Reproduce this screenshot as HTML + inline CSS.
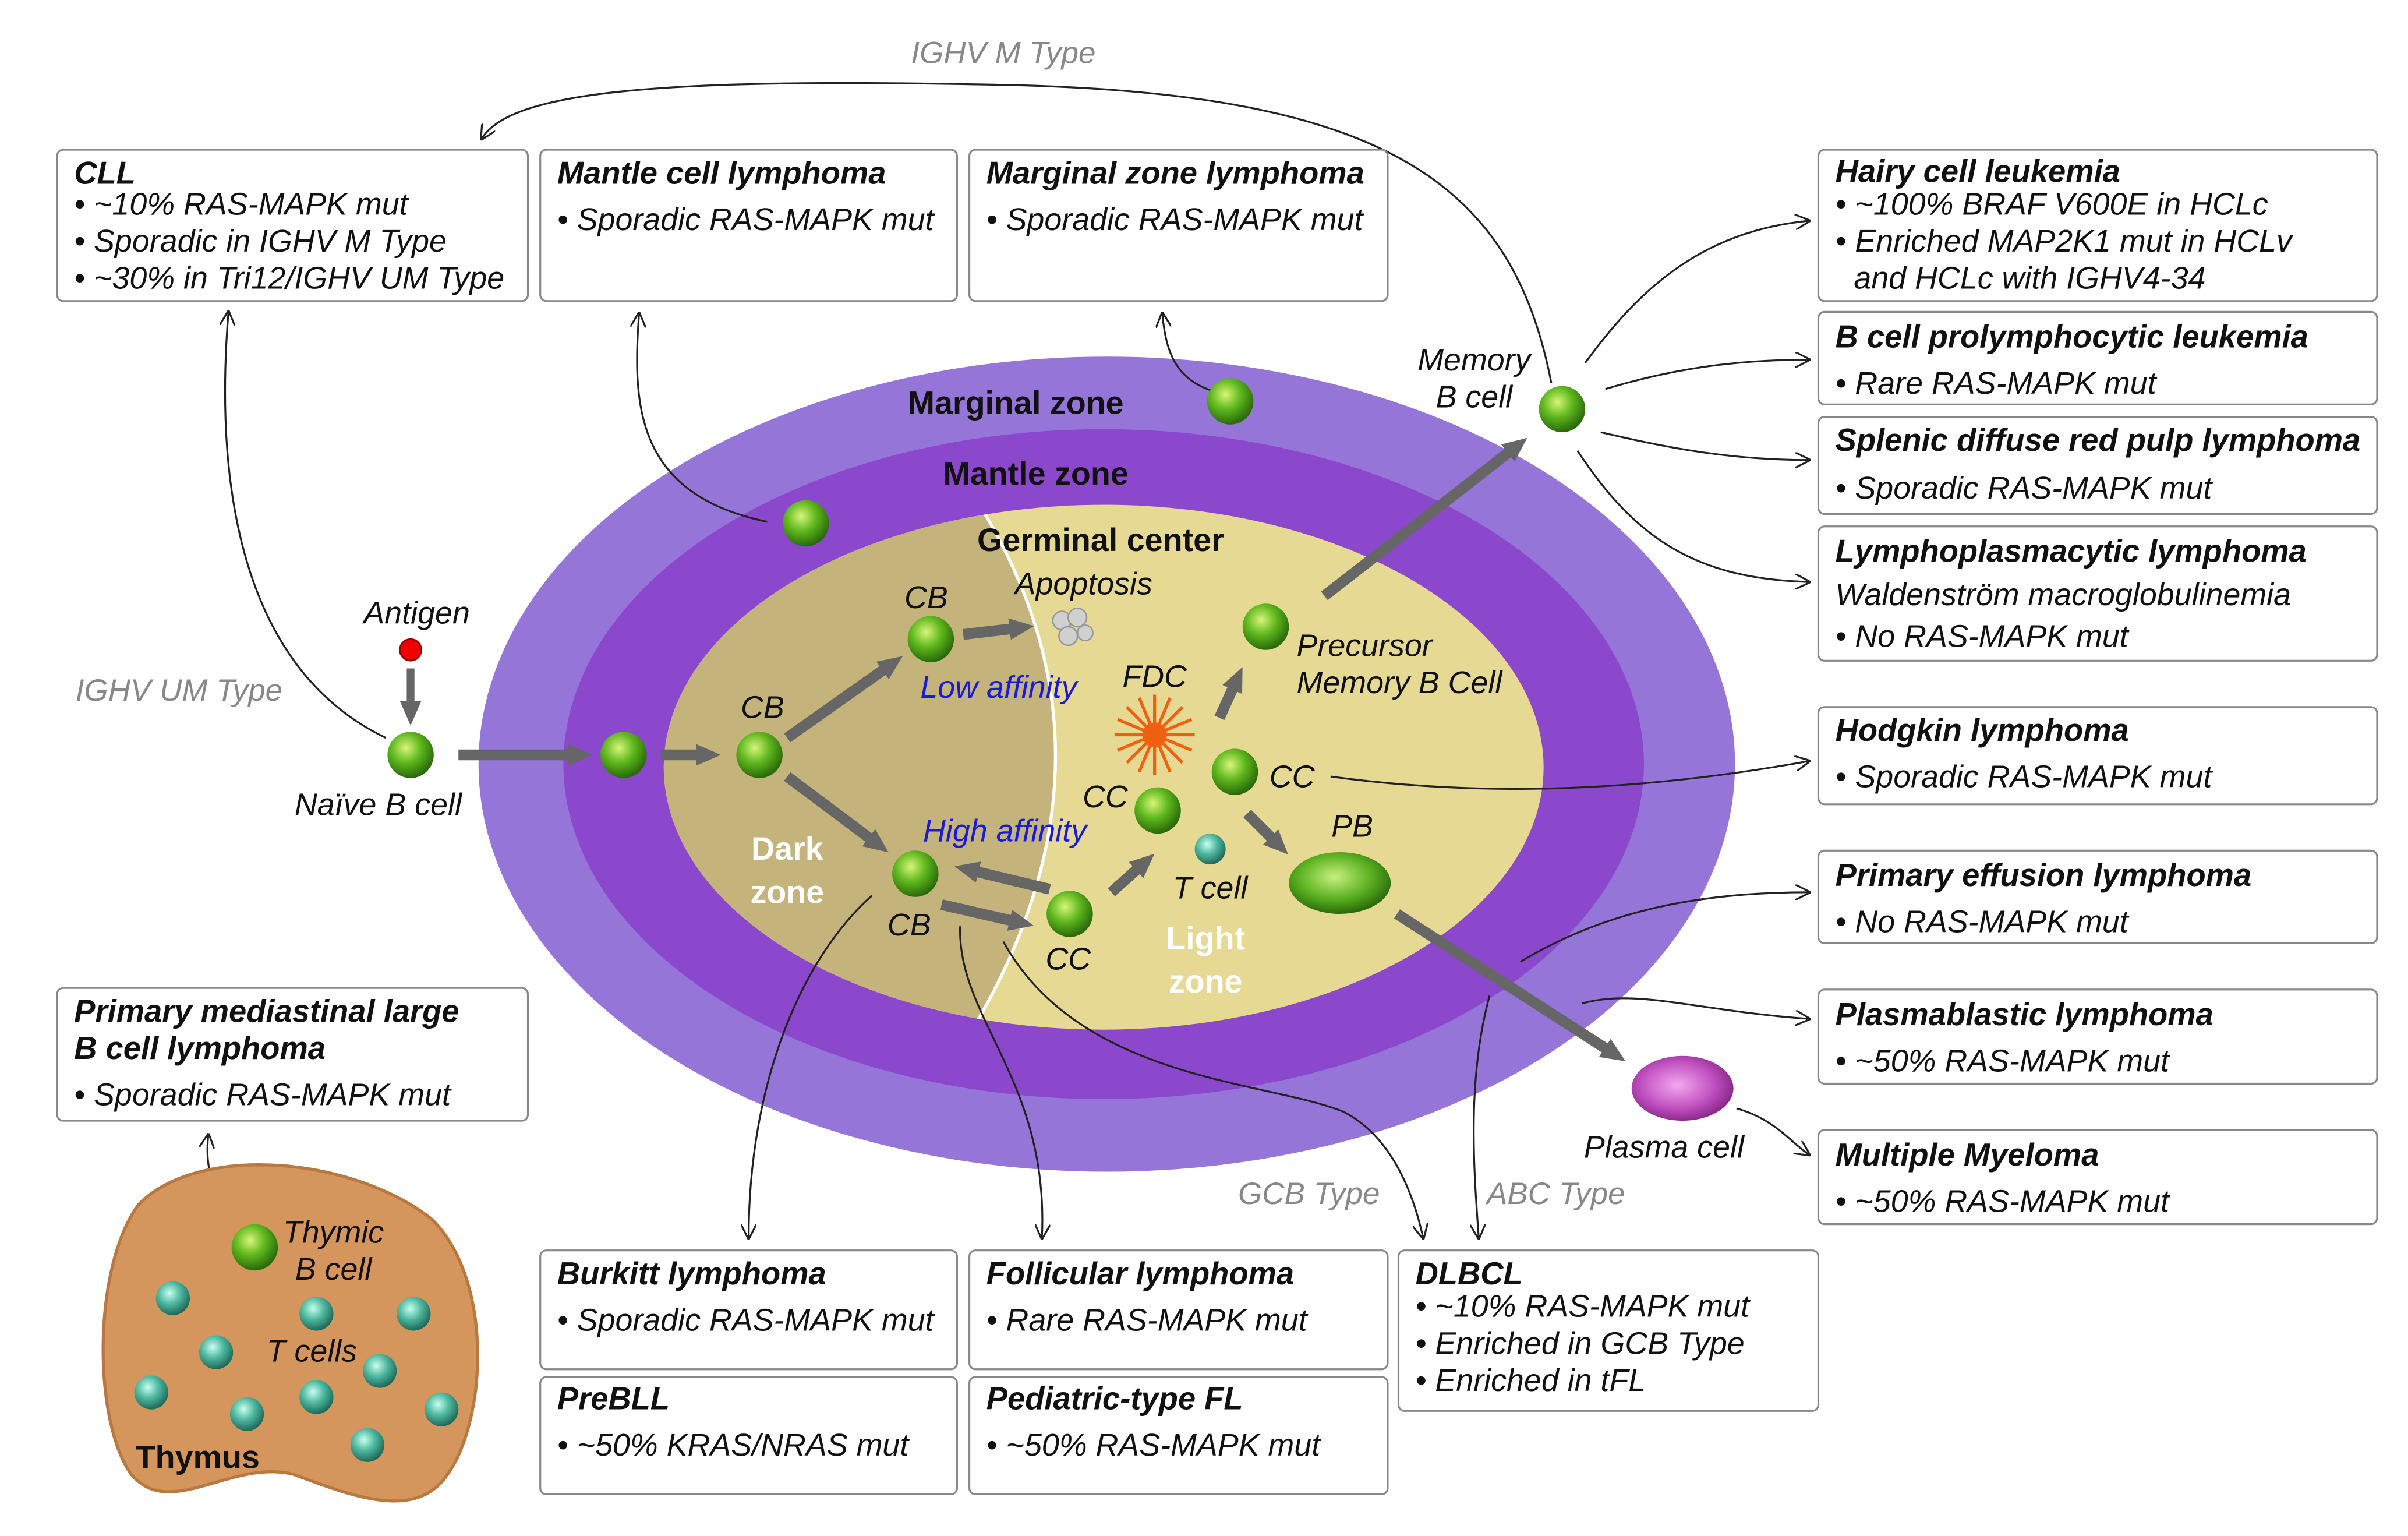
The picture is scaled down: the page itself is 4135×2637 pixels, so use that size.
<!DOCTYPE html>
<html><head><meta charset="utf-8"><style>
html,body{margin:0;padding:0;background:#fff;}
svg{display:block;}
text{font-family:"Liberation Sans",sans-serif;font-style:italic;}
.t{font-weight:bold;font-size:20.5px;fill:#111;}
.b{font-size:20.3px;fill:#111;}
.g{font-size:20px;fill:#888;}
.box{fill:#fff;stroke:#888;stroke-width:1.2;}
.thin{fill:none;stroke:#222;stroke-width:1.2;}
.big{stroke:#666;stroke-width:7;fill:none;}
</style></head><body>
<svg width="4135" height="2637" viewBox="0 0 1560 995" preserveAspectRatio="none" xmlns="http://www.w3.org/2000/svg">
<defs>
<radialGradient id="gc" cx="40%" cy="35%" r="65%"><stop offset="0" stop-color="#d8f57a"/><stop offset="0.5" stop-color="#5fb81e"/><stop offset="1" stop-color="#2a6a0a"/></radialGradient>
<radialGradient id="tc" cx="40%" cy="35%" r="65%"><stop offset="0" stop-color="#c8fff0"/><stop offset="0.5" stop-color="#4fb8a0"/><stop offset="1" stop-color="#1f6a5a"/></radialGradient>
<radialGradient id="pc" cx="45%" cy="45%" r="60%"><stop offset="0" stop-color="#f4a8f0"/><stop offset="0.6" stop-color="#c050c0"/><stop offset="1" stop-color="#802080"/></radialGradient>
<radialGradient id="pb" cx="45%" cy="40%" r="60%"><stop offset="0" stop-color="#c8f080"/><stop offset="0.6" stop-color="#5ab020"/><stop offset="1" stop-color="#2a6a0a"/></radialGradient>
<marker id="a" markerWidth="10" markerHeight="10" refX="9" refY="5" orient="auto" markerUnits="userSpaceOnUse"><path d="M0,0 L10,5 L0,10" fill="none" stroke="#222" stroke-width="1.2"/></marker>
<marker id="A" markerWidth="16" markerHeight="14" refX="4" refY="7" orient="auto" markerUnits="userSpaceOnUse"><path d="M0,0 L16,7 L0,14 Z" fill="#666"/></marker>
<clipPath id="gcclip"><ellipse cx="715" cy="497" rx="285" ry="170"/></clipPath>
</defs>

<ellipse cx="717" cy="495" rx="407" ry="264" fill="#9575d8"/>
<ellipse cx="715" cy="495" rx="350" ry="217" fill="#8c48cc"/>
<ellipse cx="715" cy="497" rx="285" ry="170" fill="#e6d993"/>
<g clip-path="url(#gcclip)">
<path d="M420,320 L630,320 Q740,490 625,675 L420,675 Z" fill="#c4b37a"/>
<path d="M630,320 Q740,490 625,675" fill="none" stroke="#fff" stroke-width="2"/>
</g>
<text x="658" y="268" style="font-style:normal;font-weight:bold;font-size:21px" text-anchor="middle" fill="#111">Marginal zone</text>
<text x="671" y="314" style="font-style:normal;font-weight:bold;font-size:21px" text-anchor="middle" fill="#111">Mantle zone</text>
<text x="713" y="357" style="font-style:normal;font-weight:bold;font-size:21px" text-anchor="middle" fill="#111">Germinal center</text>
<text x="510" y="557" style="font-style:normal;font-weight:bold;font-size:21px" text-anchor="middle" fill="#fff">Dark</text>
<text x="510" y="585" style="font-style:normal;font-weight:bold;font-size:21px" text-anchor="middle" fill="#fff">zone</text>
<text x="781" y="615" style="font-style:normal;font-weight:bold;font-size:21px" text-anchor="middle" fill="#fff">Light</text>
<text x="781" y="643" style="font-style:normal;font-weight:bold;font-size:21px" text-anchor="middle" fill="#fff">zone</text>

<g class="big" marker-end="url(#A)">
<line x1="297" y1="489" x2="372" y2="489"/>
<line x1="428" y1="489" x2="455" y2="489"/>
<line x1="510" y1="478" x2="575" y2="432"/>
<line x1="510" y1="503" x2="566" y2="545"/>
<line x1="624" y1="411" x2="658" y2="407"/>
<line x1="610" y1="586" x2="658" y2="597"/>
<line x1="680" y1="576" x2="630" y2="564"/>
<line x1="720" y1="578" x2="739" y2="561"/>
<line x1="790" y1="465" x2="800" y2="443"/>
<line x1="808" y1="527" x2="826" y2="545"/>
<line x1="858" y1="386" x2="980" y2="291"/>
<line x1="905" y1="592" x2="1043" y2="681"/>
<line x1="266" y1="433" x2="266" y2="458" stroke-width="5"/>
</g>

<g class="thin" marker-end="url(#a)">
<path d="M1005,248 C980,120 900,60 650,55 C420,50 330,60 312,90"/>
<path d="M250,478 C150,430 140,300 148,202"/>
<path d="M497,338 C410,320 410,260 414,203"/>
<path d="M785,253 C760,245 755,225 753,203"/>
<path d="M1027,235 C1060,190 1100,150 1172,143"/>
<path d="M1040,252 C1080,240 1120,233 1172,233"/>
<path d="M1037,280 C1080,290 1120,298 1172,298"/>
<path d="M1022,292 C1060,350 1100,375 1172,377"/>
<path d="M862,503 C950,515 1050,515 1172,493"/>
<path d="M985,623 C1040,590 1100,578 1172,578"/>
<path d="M1025,650 C1060,640 1100,655 1172,660"/>
<path d="M1125,718 C1150,725 1160,740 1172,748"/>
<path d="M565,580 C520,620 485,700 485,802"/>
<path d="M622,600 C620,660 680,700 675,802"/>
<path d="M650,610 C700,700 820,700 870,720 C900,735 915,770 922,802"/>
<path d="M965,645 C950,700 955,760 958,802"/>
<path d="M160,795 C140,780 132,760 135,735"/>
</g>

<text x="650" y="41" class="g" text-anchor="middle">IGHV M Type</text>
<text x="116" y="454" class="g" text-anchor="middle">IGHV UM Type</text>
<text x="848" y="780" class="g" text-anchor="middle">GCB Type</text>
<text x="1008" y="780" class="g" text-anchor="middle">ABC Type</text>
<text x="270" y="404" class="b" text-anchor="middle">Antigen</text>
<text x="245" y="528" class="b" text-anchor="middle">Naïve B cell</text>
<text x="600" y="394" class="b" text-anchor="middle">CB</text>
<text x="494" y="465" class="b" text-anchor="middle">CB</text>
<text x="589" y="606" class="b" text-anchor="middle">CB</text>
<text x="692" y="628" class="b" text-anchor="middle">CC</text>
<text x="716" y="523" class="b" text-anchor="middle">CC</text>
<text x="837" y="510" class="b" text-anchor="middle">CC</text>
<text x="702" y="385" class="b" text-anchor="middle">Apoptosis</text>
<text x="647" y="452" class="b" text-anchor="middle" style="fill:#1a1adb">Low affinity</text>
<text x="651" y="545" class="b" text-anchor="middle" style="fill:#1a1adb">High affinity</text>
<text x="748" y="445" class="b" text-anchor="middle">FDC</text>
<text x="784" y="582" class="b" text-anchor="middle">T cell</text>
<text x="876" y="542" class="b" text-anchor="middle">PB</text>
<text x="840" y="425" class="b">Precursor</text>
<text x="840" y="449" class="b">Memory B Cell</text>
<text x="955" y="240" class="b" text-anchor="middle">Memory</text>
<text x="955" y="264" class="b" text-anchor="middle">B cell</text>
<text x="1078" y="750" class="b" text-anchor="middle">Plasma cell</text>

<circle cx="266" cy="421" r="7" fill="#e00" stroke="#900"/>
<g fill="url(#gc)">
<circle cx="266" cy="489" r="15"/><circle cx="404" cy="489" r="15"/><circle cx="492" cy="489" r="15"/>
<circle cx="603" cy="414" r="15"/><circle cx="593" cy="566" r="15"/><circle cx="693" cy="592" r="15"/>
<circle cx="750" cy="525" r="15"/><circle cx="800" cy="500" r="15"/><circle cx="820" cy="406" r="15"/>
<circle cx="522" cy="339" r="15"/><circle cx="797" cy="260" r="15"/><circle cx="1012" cy="265" r="15"/>
<circle cx="165" cy="808" r="15"/>
</g>
<ellipse cx="868" cy="572" rx="33" ry="20" fill="url(#pb)"/>
<ellipse cx="1090" cy="705" rx="33" ry="21" fill="url(#pc)"/>
<circle cx="784" cy="550" r="10" fill="url(#tc)"/>
<g fill="#d0d0d0" stroke="#999"><circle cx="688" cy="402" r="6"/><circle cx="698" cy="400" r="6"/><circle cx="692" cy="412" r="6"/><circle cx="703" cy="410" r="5"/></g>
<g stroke="#f06010" stroke-width="2">
<line x1="748" y1="450" x2="748" y2="502"/><line x1="722" y1="476" x2="774" y2="476"/>
<line x1="730" y1="458" x2="766" y2="494"/><line x1="766" y1="458" x2="730" y2="494"/>
<line x1="738" y1="452" x2="758" y2="500"/><line x1="758" y1="452" x2="738" y2="500"/>
<line x1="724" y1="466" x2="772" y2="486"/><line x1="724" y1="486" x2="772" y2="466"/>
</g>
<circle cx="748" cy="476" r="8" fill="#f06010"/>

<path d="M90,780 C130,740 230,750 280,790 C320,830 315,920 290,955 C270,985 230,970 190,955 C150,945 110,985 85,955 C60,920 60,820 90,780 Z" fill="#d4965c" stroke="#b87840" stroke-width="2"/>
<g fill="url(#tc)">
<circle cx="112" cy="841" r="11"/><circle cx="205" cy="851" r="11"/><circle cx="268" cy="851" r="11"/>
<circle cx="140" cy="876" r="11"/><circle cx="246" cy="888" r="11"/><circle cx="98" cy="902" r="11"/>
<circle cx="205" cy="905" r="11"/><circle cx="160" cy="916" r="11"/><circle cx="286" cy="913" r="11"/><circle cx="238" cy="936" r="11"/>
</g>
<circle cx="165" cy="808" r="15" fill="url(#gc)"/>
<text x="216" y="805" class="b" text-anchor="middle">Thymic</text>
<text x="216" y="829" class="b" text-anchor="middle">B cell</text>
<text x="202" y="882" class="b" text-anchor="middle">T cells</text>
<text x="128" y="951" style="font-style:normal;font-weight:bold;font-size:21px" text-anchor="middle" fill="#111">Thymus</text>

<rect class="box" x="37" y="97" width="305" height="98" rx="4"/>
<text x="48" y="119" class="t">CLL</text>
<text x="48" y="139" class="b">• ~10% RAS-MAPK mut</text>
<text x="48" y="163" class="b">• Sporadic in IGHV M Type</text>
<text x="48" y="187" class="b">• ~30% in Tri12/IGHV UM Type</text>

<rect class="box" x="350" y="97" width="270" height="98" rx="4"/>
<text x="361" y="119" class="t">Mantle cell lymphoma</text>
<text x="361" y="149" class="b">• Sporadic RAS-MAPK mut</text>

<rect class="box" x="628" y="97" width="271" height="98" rx="4"/>
<text x="639" y="119" class="t">Marginal zone lymphoma</text>
<text x="639" y="149" class="b">• Sporadic RAS-MAPK mut</text>

<rect class="box" x="1178" y="97" width="362" height="98" rx="4"/>
<text x="1189" y="118" class="t">Hairy cell leukemia</text>
<text x="1189" y="139" class="b">• ~100% BRAF V600E in HCLc</text>
<text x="1189" y="163" class="b">• Enriched MAP2K1 mut in HCLv</text>
<text x="1201" y="187" class="b">and HCLc with IGHV4-34</text>

<rect class="box" x="1178" y="202" width="362" height="60" rx="4"/>
<text x="1189" y="225" class="t">B cell prolymphocytic leukemia</text>
<text x="1189" y="255" class="b">• Rare RAS-MAPK mut</text>

<rect class="box" x="1178" y="270" width="362" height="63" rx="4"/>
<text x="1189" y="292" class="t">Splenic diffuse red pulp lymphoma</text>
<text x="1189" y="323" class="b">• Sporadic RAS-MAPK mut</text>

<rect class="box" x="1178" y="341" width="362" height="87" rx="4"/>
<text x="1189" y="364" class="t">Lymphoplasmacytic lymphoma</text>
<text x="1189" y="392" class="b">Waldenström macroglobulinemia</text>
<text x="1189" y="419" class="b">• No RAS-MAPK mut</text>

<rect class="box" x="1178" y="458" width="362" height="63" rx="4"/>
<text x="1189" y="480" class="t">Hodgkin lymphoma</text>
<text x="1189" y="510" class="b">• Sporadic RAS-MAPK mut</text>

<rect class="box" x="1178" y="551" width="362" height="60" rx="4"/>
<text x="1189" y="574" class="t">Primary effusion lymphoma</text>
<text x="1189" y="604" class="b">• No RAS-MAPK mut</text>

<rect class="box" x="1178" y="641" width="362" height="61" rx="4"/>
<text x="1189" y="664" class="t">Plasmablastic lymphoma</text>
<text x="1189" y="694" class="b">• ~50% RAS-MAPK mut</text>

<rect class="box" x="1178" y="732" width="362" height="61" rx="4"/>
<text x="1189" y="755" class="t">Multiple Myeloma</text>
<text x="1189" y="785" class="b">• ~50% RAS-MAPK mut</text>

<rect class="box" x="37" y="640" width="305" height="86" rx="4"/>
<text x="48" y="662" class="t">Primary mediastinal large</text>
<text x="48" y="686" class="t">B cell lymphoma</text>
<text x="48" y="716" class="b">• Sporadic RAS-MAPK mut</text>

<rect class="box" x="350" y="810" width="270" height="77" rx="4"/>
<text x="361" y="832" class="t">Burkitt lymphoma</text>
<text x="361" y="862" class="b">• Sporadic RAS-MAPK mut</text>

<rect class="box" x="628" y="810" width="271" height="77" rx="4"/>
<text x="639" y="832" class="t">Follicular lymphoma</text>
<text x="639" y="862" class="b">• Rare RAS-MAPK mut</text>

<rect class="box" x="350" y="892" width="270" height="76" rx="4"/>
<text x="361" y="913" class="t">PreBLL</text>
<text x="361" y="943" class="b">• ~50% KRAS/NRAS mut</text>

<rect class="box" x="628" y="892" width="271" height="76" rx="4"/>
<text x="639" y="913" class="t">Pediatric-type FL</text>
<text x="639" y="943" class="b">• ~50% RAS-MAPK mut</text>

<rect class="box" x="906" y="810" width="272" height="104" rx="4"/>
<text x="917" y="832" class="t">DLBCL</text>
<text x="917" y="853" class="b">• ~10% RAS-MAPK mut</text>
<text x="917" y="877" class="b">• Enriched in GCB Type</text>
<text x="917" y="901" class="b">• Enriched in tFL</text>
</svg>
</body></html>
